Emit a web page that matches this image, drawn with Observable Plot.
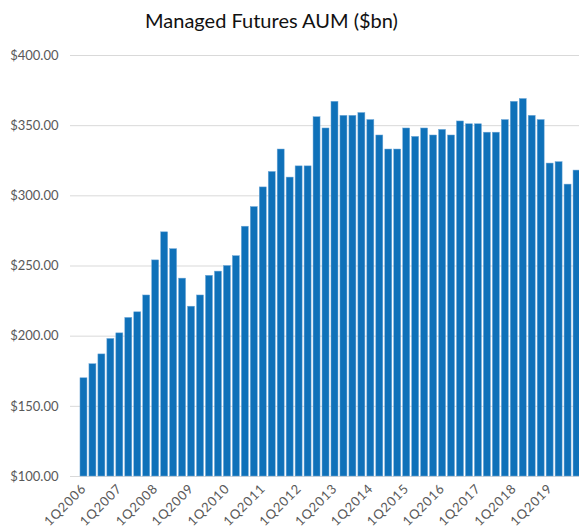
<!DOCTYPE html>
<html>
<head>
<meta charset="utf-8">
<script src="https://cdn.jsdelivr.net/npm/d3@7"></script>
<script src="https://cdn.jsdelivr.net/npm/@observablehq/plot@0.6"></script>
<style>
  html, body { margin: 0; padding: 0; background: #fff; overflow: hidden; }
  #title { width: 579px; height: 40px; line-height: 40px; box-sizing: border-box; padding-right: 36px;
           text-align: center; font-family: Lato, "Open Sans", sans-serif; font-size: 20px; color: #111; }
</style>
</head>
<body>
<div id="title">Managed Futures AUM ($bn)</div>
<div id="chart"></div>
<script>
const years = [2006, 2007, 2008, 2009, 2010, 2011, 2012, 2013, 2014, 2015, 2016, 2017, 2018, 2019];
const quarterNames = ["1Q", "2Q", "3Q", "4Q"];
const periods = years.flatMap(y => quarterNames.map(q => q + y));
const aum = [
  170, 180, 187, 198,
  202, 213, 217, 229,
  254, 274, 262, 241,
  221, 229, 243, 246,
  250, 257, 278, 292,
  306, 317, 333, 313,
  321, 321, 356, 348,
  367, 357, 357, 359,
  354, 343, 333, 333,
  348, 342, 348, 343,
  347, 343, 353, 351,
  351, 345, 345, 354,
  367, 369, 357, 354,
  323, 324, 308, 318
];
const yTicks = [100, 150, 200, 250, 300, 350, 400];
const xTicks = periods.filter(p => p.startsWith("1Q"));

const data = periods.map((p, i) => ({period: p, value: aum[i]}));
const fmt = d => "$" + d3.format(".2f")(d);

const chart = Plot.plot({
  width: 579,
  height: 491,
  marginTop: 15,
  marginBottom: 55,
  marginLeft: 70,
  marginRight: 0,
  style: {fontFamily: "Lato, 'Open Sans', sans-serif", fontSize: "13px", color: "#595959", overflow: "visible"},
  x: {domain: periods, range: [78, 582], padding: 0.22, label: null},
  y: {domain: [100, 400], label: null},
  marks: [
    Plot.ruleY(yTicks, {stroke: "#d9d9d9", strokeWidth: 1}),
    Plot.barY(data, {x: "period", y1: 100, y2: "value", fill: "#0f71b9", stroke: "#6fa8d8", strokeWidth: 0.5}),
    Plot.axisY({ticks: yTicks, tickFormat: fmt, tickSize: 0, tickPadding: 12, fontSize: 13, fill: "#595959"}),
    Plot.axisX({ticks: xTicks, tickSize: 0, tickPadding: 10, tickRotate: -45, fontSize: 13, fill: "#595959"})
  ]
});
chart.querySelectorAll("g[aria-label='x-axis tick label'] text").forEach(t => t.setAttribute("letter-spacing", "0.8"));
document.getElementById("chart").appendChild(chart);
</script>
</body>
</html>
